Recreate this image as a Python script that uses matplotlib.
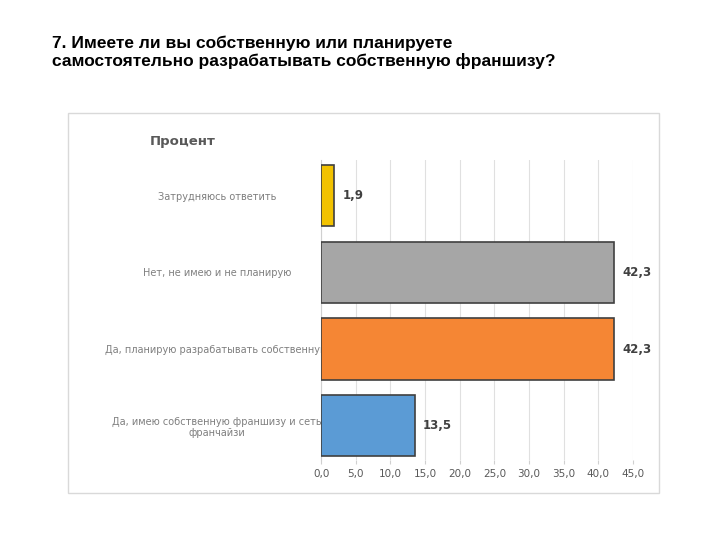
import matplotlib
matplotlib.use("Agg")
import matplotlib.pyplot as plt
from matplotlib.patches import Rectangle

categories = ["Да, имею собственную франшизу и сеть\nфранчайзи",
              "Да, планирую разрабатывать собственную",
              "Нет, не имею и не планирую",
              "Затрудняюсь ответить"]
values = [13.5, 42.3, 42.3, 1.9]
labels = ["13,5", "42,3", "42,3", "1,9"]
colors = ["#5b9bd5", "#f58634", "#a6a6a6", "#f2c200"]
ticks = [0, 5, 10, 15, 20, 25, 30, 35, 40, 45]
tick_labels = ["0,0", "5,0", "10,0", "15,0", "20,0", "25,0", "30,0", "35,0", "40,0", "45,0"]

fig = plt.figure(figsize=(7.2, 5.4), dpi=100)
fig.text(0.072, 0.935, "7. Имеете ли вы собственную или планируете\nсамостоятельно разрабатывать собственную франшизу?",
         fontsize=12.5, fontweight="bold", va="top", ha="left", linespacing=1.2,
         family="Liberation Sans")
fig.patches.append(Rectangle((68/720, 1-493/540), (659-68)/720, (493-113)/540,
                             transform=fig.transFigure, fill=False, edgecolor="#d9d9d9", lw=1))
fig.text(150/720, 1-141/540, "Процент", fontsize=9.5, fontweight="bold", color="#595959", va="center")

ax = fig.add_axes([0.446, 0.148, 0.433, 0.556])
ypos = list(range(len(values)))
ax.barh(ypos, values, height=0.8, color=colors, edgecolor="#404040", linewidth=1.2, zorder=3)
for y, v, l in zip(ypos, values, labels):
    ax.text(v + 1.2, y, l, va="center", ha="left", fontsize=8.5, fontweight="bold", color="#404040")
ax.set_yticks(ypos)
ax.set_yticklabels(categories, fontsize=7, color="#7f7f7f", ha="center")
ax.tick_params(axis="y", length=0, pad=75)
ax.set_xticks(ticks)
ax.set_xticklabels(tick_labels, fontsize=7.5, color="#595959")
ax.set_xlim(0, 45)
ax.set_ylim(-0.45, 3.47)
ax.grid(axis="x", color="#e0e0e0", lw=0.8, zorder=0)
for s in ["top", "right"]:
    ax.spines[s].set_visible(False)
ax.spines["bottom"].set_visible(False)
ax.spines["left"].set_color("#d0d0d0")
ax.tick_params(axis="x", length=3, color="#d0d0d0")
fig.savefig("out.png")
